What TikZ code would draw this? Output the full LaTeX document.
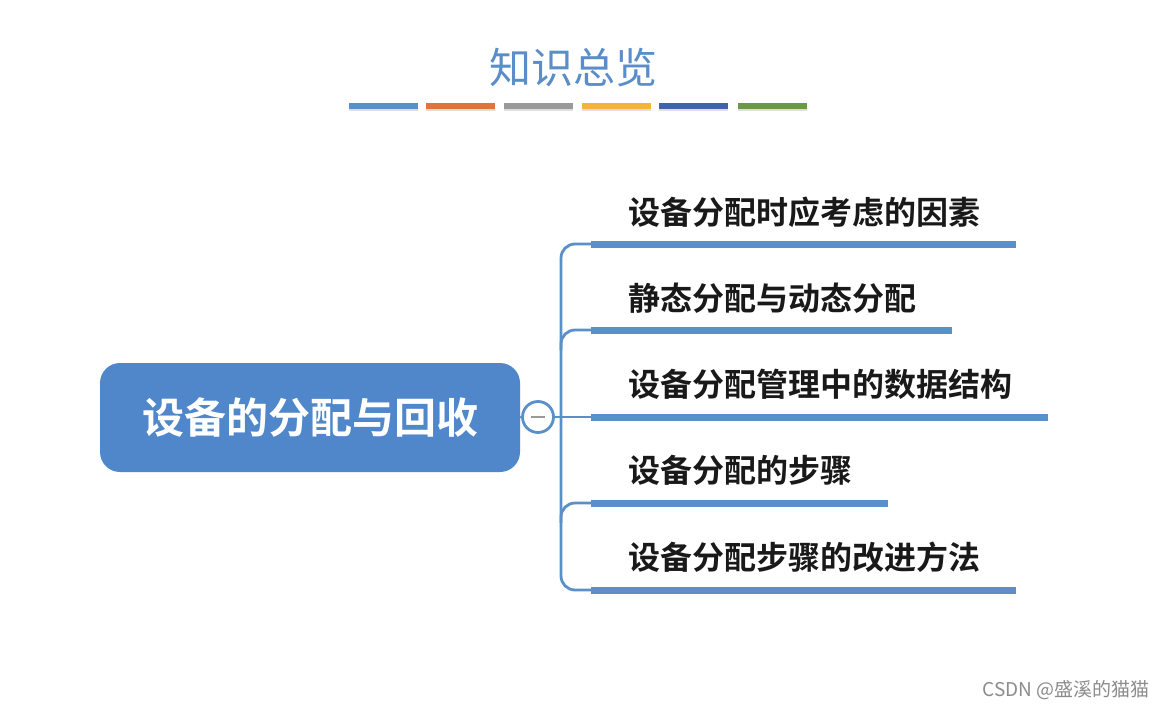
\documentclass[tikz,border=0pt]{standalone}
\usepackage{fontspec}
\newfontfamily\cjk{Noto Sans CJK SC}
\newfontfamily\cjkb{Noto Sans CJK SC Bold}
\usetikzlibrary{shadows}
\definecolor{mblue}{HTML}{5087CB}
\definecolor{lblue}{HTML}{5B8FC9}
\definecolor{tblue}{HTML}{5A8EC8}
\definecolor{cOrange}{HTML}{E0743A}
\definecolor{cGray}{HTML}{9A9A9A}
\definecolor{cYellow}{HTML}{F4B43A}
\definecolor{cDark}{HTML}{3F64AE}
\definecolor{cGreen}{HTML}{6A9A46}
\tikzset{
  bar/.style={fill=#1, draw=none, minimum height=6pt, minimum width=69pt, inner sep=0pt,
    drop shadow={shadow xshift=0pt, shadow yshift=-2pt, opacity=0.25}},
  uline/.style={fill=lblue, draw=none, minimum height=7pt, inner sep=0pt, anchor=west},
  item/.style={anchor=west, inner sep=0pt, font=\cjkb\fontsize{32}{36}\selectfont, text=black!90},
  conn/.style={draw=lblue, line width=2.8pt},
}
\begin{document}
\begin{tikzpicture}[x=1pt,y=-1pt]
\useasboundingbox (0,0) rectangle (1166,709);
\fill[white] (0,0) rectangle (1166,709);
% title
\node[inner sep=0pt, text=tblue, font=\cjk\fontsize{42}{48}\selectfont] (title) at (573,68) {知识总览};
% colour bars
\node[bar=lblue]   (b1) at (383,106) {};
\node[bar=cOrange] (b2) at (460,106) {};
\node[bar=cGray]   (b3) at (538,106) {};
\node[bar=cYellow] (b4) at (616,106) {};
\node[bar=cDark]   (b5) at (693,106) {};
\node[bar=cGreen]  (b6) at (772,106) {};
% main node
\node[fill=mblue, rounded corners=20pt, minimum width=420pt, minimum height=109pt, inner sep=0pt,
  text=white, font=\cjkb\fontsize{42}{48}\selectfont] (main) at (310,417.5) {设备的分配与回收};
% collapse circle
\node[circle, draw=lblue, line width=2.8pt, fill=white, minimum size=31pt, inner sep=0pt] (col) at (538,417) {};
\draw[draw=gray!80, line width=2pt] ([xshift=-7pt]col.center) -- ([xshift=7pt]col.center);
\draw[conn] (main.east) -- (col.west);
% underlines
\node[uline, minimum width=425pt] (u1) at (591,244) {};
\node[uline, minimum width=361pt] (u2) at (591,330) {};
\node[uline, minimum width=457pt] (u3) at (591,417) {};
\node[uline, minimum width=297pt] (u4) at (591,503) {};
\node[uline, minimum width=425pt] (u5) at (591,590) {};
% item texts
\node[item] (t1) at (628,212) {设备分配时应考虑的因素};
\node[item] (t2) at (628,298) {静态分配与动态分配};
\node[item] (t3) at (628,384) {设备分配管理中的数据结构};
\node[item] (t4) at (628,470) {设备分配的步骤};
\node[item] (t5) at (628,557) {设备分配步骤的改进方法};
% connectors
\coordinate (bus) at (561,417);
\draw[conn] (col.east) -- (u3.west);
\draw[conn, rounded corners=14pt] (u1.west) -| (bus) |- (u5.west);
\draw[conn, rounded corners=14pt] ([yshift=-20pt]bus |- u2.west) |- (u2.west);
\draw[conn, rounded corners=14pt] ([yshift=-20pt]bus |- u4.west) |- (u4.west);
% watermark
\node[anchor=east, inner sep=0pt, text=gray!90, font=\cjk\fontsize{19}{22}\selectfont] (wm) at (1150,690) {CSDN @盛溪的猫猫};
\end{tikzpicture}
\end{document}
